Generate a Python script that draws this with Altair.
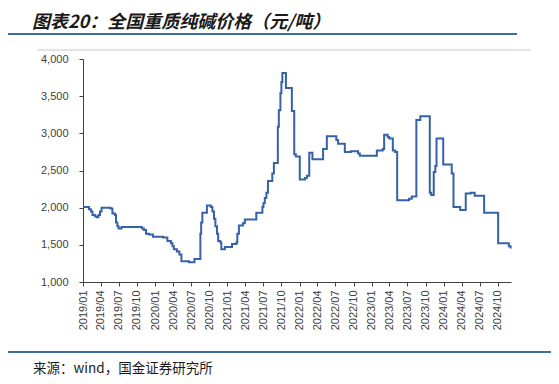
import altair as alt
import pandas as pd

TITLE = "图表20：全国重质纯碱价格（元/吨）"
SOURCE = "来源：wind，国金证券研究所"

dates = [
    "2019-01-01", "2019-01-31", "2019-02-10", "2019-02-18", "2019-03-03", "2019-03-13",
    "2019-03-20", "2019-03-28", "2019-04-05", "2019-05-20", "2019-05-30", "2019-06-12",
    "2019-06-17", "2019-06-24", "2019-06-30", "2019-07-15", "2019-10-26", "2019-11-05",
    "2019-11-16", "2019-12-01", "2019-12-21", "2020-02-10", "2020-03-03", "2020-03-21",
    "2020-03-29", "2020-04-05", "2020-04-20", "2020-05-03", "2020-05-13", "2020-06-20",
    "2020-07-18", "2020-08-17", "2020-08-21", "2020-08-27", "2020-09-19", "2020-10-09",
    "2020-10-17", "2020-10-25", "2020-11-01", "2020-11-09", "2020-11-15", "2020-11-26",
    "2020-12-01", "2020-12-19", "2021-01-24", "2021-02-15", "2021-02-20", "2021-02-28",
    "2021-03-20", "2021-03-30", "2021-05-27", "2021-06-27", "2021-07-02", "2021-07-09",
    "2021-07-17", "2021-07-25", "2021-08-16", "2021-08-24", "2021-09-13", "2021-09-18",
    "2021-09-26", "2021-10-01", "2021-10-06", "2021-10-24", "2021-11-23", "2021-12-05",
    "2021-12-13", "2022-01-02", "2022-01-28", "2022-02-07", "2022-02-19", "2022-03-07",
    "2022-04-30", "2022-05-19", "2022-07-06", "2022-07-15", "2022-08-18", "2022-09-17",
    "2022-10-24", "2022-11-02", "2023-01-27", "2023-02-26", "2023-03-05", "2023-03-23",
    "2023-03-31", "2023-04-18", "2023-04-30", "2023-05-10", "2023-07-09", "2023-07-23",
    "2023-08-15", "2023-09-04", "2023-10-22", "2023-10-29", "2023-11-11", "2023-11-19",
    "2023-11-25", "2023-12-29", "2024-02-10", "2024-02-19", "2024-03-24", "2024-04-21",
    "2024-05-16", "2024-06-05", "2024-07-23", "2024-10-02", "2024-11-25", "2024-12-04",
]
prices = [
    2010, 1980, 1950, 1900, 1880, 1870,
    1900, 1950, 2000, 1990, 1920, 1900,
    1800, 1750, 1720, 1740, 1720, 1700,
    1650, 1640, 1610, 1600, 1550, 1520,
    1480, 1440, 1410, 1370, 1280, 1265,
    1310, 1650, 1800, 1930, 2030, 2010,
    1950, 1850, 1750, 1650, 1550, 1530,
    1440, 1470, 1510, 1530, 1650, 1760,
    1790, 1840, 1930, 2010, 2060, 2130,
    2200, 2360, 2460, 2600, 3090, 3310,
    3540, 3690, 3810, 3610, 3300, 2720,
    2690, 2380, 2400, 2430, 2740, 2650,
    2790, 2960, 2910, 2860, 2750, 2760,
    2730, 2700, 2770, 2790, 2980, 2950,
    2930, 2770, 2750, 2100, 2120, 2150,
    3180, 3230, 2200, 2170, 2480, 2560,
    2930, 2580, 2460, 2010, 1970, 2190,
    2200, 2160, 1930, 1520, 1480, 1450,
]

tick_years = [2019, 2020, 2021, 2022, 2023, 2024]
tick_months = [1, 4, 7, 10]
y_ticks = [1000, 1500, 2000, 2500, 3000, 3500, 4000]

df = pd.DataFrame({"date": dates, "price": prices})
one = pd.DataFrame({"k": [0]})

x_ticks = [alt.DateTime(year=y, month=m, date=1, utc=True) for y in tick_years for m in tick_months]

W, H = 428, 223
LABEL_FONT = "Liberation Sans"
CJK = "Noto Sans CJK SC"

line = alt.Chart(df).mark_line(
    interpolate="step-after", color="#3561a8", strokeWidth=2
).encode(
    x=alt.X(
        "date:T",
        title=None,
        scale=alt.Scale(
            type="utc",
            domain=[
                alt.DateTime(year=2019, month=1, date=1, utc=True),
                alt.DateTime(year=2024, month=12, date=6, utc=True),
            ],
        ),
        axis=alt.Axis(
            values=x_ticks,
            labelExpr="utcFormat(datum.value, '%Y/%m')",
            labelAngle=270,
            labelPadding=4, tickSize=4, labelOverlap=False, labelFlush=False,
        ),
    ),
    y=alt.Y(
        "price:Q",
        title=None,
        scale=alt.Scale(domain=[1000, 4000], nice=False, zero=False),
        axis=alt.Axis(
            values=y_ticks,
            labelExpr="format(datum.value, ',')",
            labelPadding=11, tickSize=4,
        ),
    ),
)

title = alt.Chart(one).mark_text(
    text=TITLE, align="left", baseline="middle", fontSize=18, fontWeight="bold",
    fontStyle="italic", font=CJK, color="#1a1a1a",
).encode(x=alt.value(-51), y=alt.value(-36))

source = alt.Chart(one).mark_text(
    text=SOURCE, align="left", baseline="middle", fontSize=13.5, font=CJK, color="#1a1a1a",
).encode(x=alt.value(-50), y=alt.value(310))

rule_top = alt.Chart(one).mark_rule(color="#3b6e9c", strokeWidth=2).encode(
    x=alt.value(-75), x2=alt.value(434), y=alt.value(-25)
)
rule_grey = alt.Chart(one).mark_rule(color="#c8c8c8", strokeWidth=1).encode(
    x=alt.value(-46), x2=alt.value(448), y=alt.value(-9)
)
rule_bottom = alt.Chart(one).mark_rule(color="#3b6e9c", strokeWidth=2).encode(
    x=alt.value(-75), x2=alt.value(470), y=alt.value(293)
)

chart = alt.layer(line, rule_top, rule_grey, rule_bottom, title, source).properties(
    width=W, height=H,
    autosize=alt.AutoSizeParams(type="none"),
    padding={"left": 75, "top": 51, "right": 40, "bottom": 94},
).configure_view(stroke=None).configure_axis(
    grid=False, domainColor="#404040", tickColor="#404040", labelColor="#404040",
    labelFont=LABEL_FONT, labelFontSize=11, domainWidth=1,
)

chart.save("out.html", embed_options={"renderer": "svg", "actions": False})
